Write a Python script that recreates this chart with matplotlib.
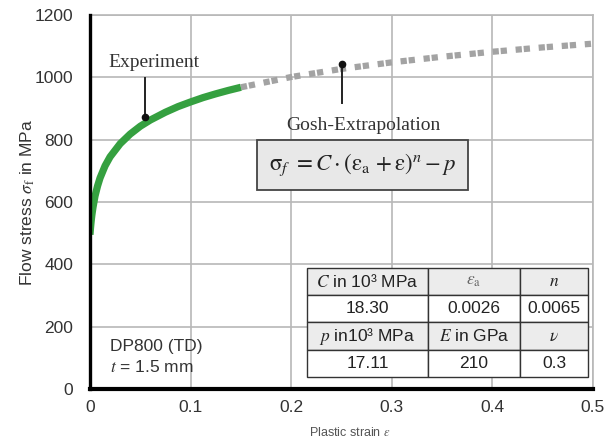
import matplotlib.pyplot as plt

plt.rcParams['font.family'] = ['Liberation Sans', 'DejaVu Sans']
plt.rcParams['mathtext.fontset'] = 'stix'

# =========================
# Data
# =========================
exp_strain = [0.0, 0.0005, 0.001, 0.0015, 0.002, 0.003, 0.005, 0.0075, 0.01,
              0.015, 0.02, 0.03, 0.04, 0.05, 0.06, 0.075, 0.0875, 0.1,
              0.1125, 0.125, 0.1375, 0.15]
exp_stress = [495, 516, 533, 548, 561, 583, 619, 651, 677,
              716, 745, 787, 818, 843, 863, 888, 906, 921,
              935, 947, 958, 968]

extra_strain = [0.15, 0.2, 0.25, 0.3, 0.35, 0.4, 0.45, 0.5]
extra_stress = [968, 1001, 1027, 1048, 1066, 1082, 1096, 1108]

x_ticks = [0, 0.1, 0.2, 0.3, 0.4, 0.5]
x_tick_labels = ['0', '0.1', '0.2', '0.3', '0.4', '0.5']
y_ticks = [0, 200, 400, 600, 800, 1000, 1200]

table_rows = [
    [r'$C$ in 10³ MPa', r'$\varepsilon_\mathrm{a}$', r'$n$'],
    ['18.30', '0.0026', '0.0065'],
    [r'$p$ in10³ MPa', r'$E$ in GPa', r'$\nu$'],
    ['17.11', '210', '0.3'],
]

# =========================
# Figure
# =========================
fig = plt.figure(figsize=(6.06, 4.41), dpi=100)
ax = fig.add_axes([0.1485, 0.118, 0.83, 0.848])

ax.plot(extra_strain, extra_stress, color='#a3a3a3', lw=4.5,
        dashes=(1, 0.3, 1, 1.4), dash_capstyle='butt', zorder=3)
ax.plot(exp_strain, exp_stress, color='#35a040', lw=5.2,
        solid_capstyle='butt', solid_joinstyle='round', zorder=4)

ax.set_xlim(0, 0.5)
ax.set_ylim(0, 1200)
ax.set_xticks(x_ticks)
ax.set_xticklabels(x_tick_labels)
ax.set_yticks(y_ticks)
ax.grid(True, color='#b8b8b8', lw=1.2)
ax.set_axisbelow(True)
ax.tick_params(axis='both', length=0, labelsize=12.5, labelcolor='#333333')
ax.tick_params(axis='y', pad=12)
ax.tick_params(axis='x', pad=8)

for side in ['top', 'right']:
    ax.spines[side].set_color('#b8b8b8')
    ax.spines[side].set_linewidth(1.2)
ax.spines['left'].set_linewidth(2.4)
ax.spines['bottom'].set_linewidth(3)
ax.spines['left'].set_zorder(5)
ax.spines['bottom'].set_zorder(5)

fig.text(0.046, 1 - 202 / 441, r'Flow stress $\sigma_\mathrm{f}$ in MPa', rotation=90,
         ha='center', va='center', fontsize=12.5, color='#333333')
fig.text(350 / 606, 1 - 432 / 441, r'Plastic strain $\varepsilon$', ha='center',
         va='center', fontsize=9, color='#555555')

# =========================
# Annotations
# =========================
ax.plot([0.0547, 0.0547], [873, 998], color='#222222', lw=1.4, zorder=6)
ax.plot([0.0547], [873], 'o', color='#111111', ms=4.5, zorder=6)
ax.text(0.064, 1049, 'Experiment', family='Liberation Serif', fontsize=14,
        ha='center', va='center', color='#333333')

ax.plot([0.2505, 0.2505], [1043, 918], color='#222222', lw=1.4, zorder=6)
ax.plot([0.2505], [1043], 'o', color='#111111', ms=4.5, zorder=6)
ax.text(0.2714, 847, 'Gosh-Extrapolation', family='Liberation Serif', fontsize=14,
        ha='center', va='center', color='#333333')

ax.text(0.271, 719,
        r'$\mathrm{\sigma}_f\ = C\cdot(\mathrm{\varepsilon}_\mathrm{a}\, + \mathrm{\varepsilon})^n - p$',
        fontsize=16.5, ha='center', va='center', color='#222222',
        bbox=dict(boxstyle='square,pad=0.5', fc='#e8e8e8', ec='#444444', lw=1.3),
        zorder=6)

ax.text(0.02, 135, 'DP800 (TD)', fontsize=12.5, ha='left', va='center', color='#333333')
ax.text(0.02, 70, r'$t$ = 1.5 mm', fontsize=12.5, ha='left', va='center', color='#333333')

# =========================
# Parameter table
# =========================
col_w = [121, 92, 68]
tbl = ax.table(cellText=table_rows, colWidths=[w / sum(col_w) for w in col_w],
               cellLoc='center', bbox=[0.4314, 0.032, 0.5586, 0.2915], zorder=7)
tbl.auto_set_font_size(False)
for (r, c), cell in tbl.get_celld().items():
    cell.set_edgecolor('#333333')
    cell.set_linewidth(1.0)
    cell.set_facecolor('#ececec' if r in (0, 2) else 'white')
    cell.get_text().set_fontsize(12.5)
    cell.get_text().set_color('#222222')
tbl[0, 1].get_text().set_color('#666666')

fig.savefig('out.png', dpi=100)
